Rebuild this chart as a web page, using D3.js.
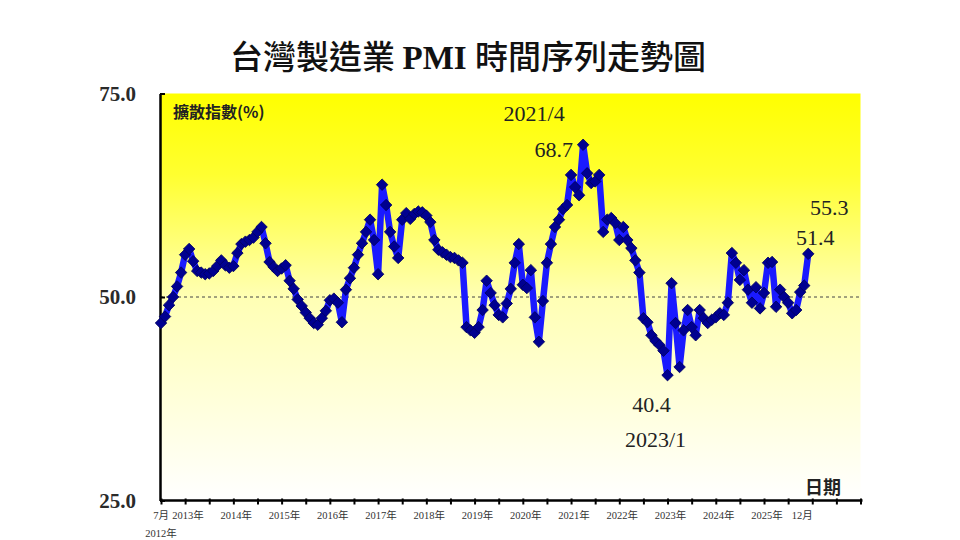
<!DOCTYPE html>
<html>
<head>
<meta charset="utf-8">
<script src="https://cdn.jsdelivr.net/npm/d3@7"></script>
<style>
  body { margin: 0; background: #fff; }
  svg { display: block; }
</style>
</head>
<body>
<script>
// monthly PMI values, July 2012 .. December 2025
var v2012 = [46.8, 47.6, 49.0, 50.0, 51.3, 53.0];
var v2013 = [55.2, 55.9, 54.4, 53.2, 53.0, 52.8, 52.9, 53.2, 53.8, 54.5, 53.9, 53.6];
var v2014 = [53.8, 55.4, 56.5, 56.8, 57.0, 57.3, 58.0, 58.6, 56.6, 54.3, 53.7, 53.2];
var v2015 = [53.5, 53.9, 52.0, 51.0, 49.7, 48.9, 48.1, 47.4, 46.8, 46.6, 47.4, 48.3];
var v2016 = [49.6, 49.8, 49.3, 46.9, 50.9, 52.3, 53.6, 55.2, 56.6, 58.0, 59.5, 57.0];
var v2017 = [52.8, 63.8, 61.3, 58.0, 56.2, 54.8, 59.5, 60.3, 59.6, 60.2, 60.5, 60.4];
var v2018 = [60.0, 59.2, 57.0, 55.8, 55.5, 55.2, 54.9, 54.8, 54.5, 54.2, 46.3, 45.9];
var v2019 = [45.6, 46.3, 48.4, 52.0, 50.5, 49.0, 47.8, 47.5, 49.2, 51.0, 54.2, 56.5];
var v2020 = [51.5, 51.1, 53.3, 47.5, 44.5, 49.5, 54.2, 56.5, 58.6, 59.5, 60.8, 61.3];
var v2021 = [65.0, 63.5, 62.5, 68.7, 65.2, 64.0, 64.2, 65.0, 58.0, 59.5, 59.7, 59.1];
var v2022 = [57.0, 58.6, 57.0, 56.0, 54.5, 53.0, 47.4, 46.9, 45.3, 44.6, 44.1, 43.4];
var v2023 = [40.4, 51.7, 46.8, 41.4, 45.9, 48.4, 46.3, 45.3, 48.4, 47.4, 46.8, 47.2];
var v2024 = [47.5, 48.0, 47.8, 49.3, 55.4, 54.2, 52.1, 53.3, 50.9, 49.3, 51.2, 48.6];
var v2025 = [50.5, 54.2, 54.3, 48.8, 50.9, 50.0, 49.3, 48.0, 48.4, 50.6, 51.4, 55.3];

var values = [].concat(v2012, v2013, v2014, v2015, v2016, v2017, v2018,
  v2019, v2020, v2021, v2022, v2023, v2024, v2025);

var yearLabels = ['2013年', '2014年', '2015年', '2016年', '2017年', '2018年', '2019年',
  '2020年', '2021年', '2022年', '2023年', '2024年', '2025年'];
var yTicks = [25, 50, 75];

var W = 960, H = 540;
var pLeft = 160, pRight = 860.5, pTop = 93.5, pBottom = 500.5;

var svg = d3.select('body').append('svg')
  .attr('width', W)
  .attr('height', H);

var x = d3.scaleLinear().domain([0, 174]).range([pLeft + 1, pRight]);
var y = d3.scaleLinear().domain([25, 75]).range([pBottom, pTop]);

// background gradient
var grad = svg.append('defs').append('linearGradient')
  .attr('id', 'bg')
  .attr('x1', 0).attr('y1', 0).attr('x2', 0).attr('y2', 1);
grad.append('stop').attr('offset', 0).attr('stop-color', '#ffff00');
grad.append('stop').attr('offset', 0.2).attr('stop-color', '#ffff30');
grad.append('stop').attr('offset', 0.5).attr('stop-color', '#ffffb4');
grad.append('stop').attr('offset', 1).attr('stop-color', '#ffffff');

svg.append('rect')
  .attr('x', pLeft).attr('y', pTop)
  .attr('width', pRight - pLeft).attr('height', pBottom - pTop)
  .attr('fill', 'url(#bg)');

// title
var title = svg.append('text')
  .attr('x', 468).attr('y', 69)
  .attr('text-anchor', 'middle')
  .style('font-size', '33px')
  .style('fill', '#111');
title.append('tspan')
  .style('font-family', '"Noto Sans CJK TC", sans-serif')
  .style('font-weight', 500)
  .text('台灣製造業 ');
title.append('tspan')
  .style('font-family', '"Liberation Serif", serif')
  .style('font-weight', 'bold')
  .text('PMI ');
title.append('tspan')
  .style('font-family', '"Noto Sans CJK TC", sans-serif')
  .style('font-weight', 500)
  .text('時間序列走勢圖');

// 50 reference line
svg.append('line')
  .attr('x1', pLeft).attr('x2', pRight)
  .attr('y1', y(50)).attr('y2', y(50))
  .attr('stroke', '#444')
  .attr('stroke-width', 1)
  .attr('stroke-dasharray', '3,3');

// axes
var yAxis = d3.axisLeft(y)
  .tickValues(yTicks)
  .tickSizeInner(-5)
  .tickSizeOuter(0)
  .tickPadding(24)
  .tickFormat(d3.format('.1f'));

var gy = svg.append('g')
  .attr('transform', 'translate(' + pLeft + ',0)')
  .call(yAxis);
gy.select('.domain').attr('stroke', '#000').attr('stroke-width', 2.5);
gy.selectAll('.tick line').attr('stroke', '#000').attr('stroke-width', 2);
gy.selectAll('.tick text')
  .style('font-family', '"Liberation Serif", serif')
  .style('font-weight', 'bold')
  .style('font-size', '21px')
  .style('fill', '#2a2a2a');

var xAxis = d3.axisBottom(x)
  .tickValues(d3.range(0, 175, 6))
  .tickSizeInner(4)
  .tickSizeOuter(0)
  .tickFormat('');

var gx = svg.append('g')
  .attr('transform', 'translate(0,' + pBottom + ')')
  .call(xAxis);
gx.select('.domain').attr('stroke', '#000').attr('stroke-width', 2.5)
  .attr('d', 'M' + pLeft + ',0H' + (pRight + 2));
gx.selectAll('.tick line').attr('stroke', '#000').attr('stroke-width', 2)
  .attr('y1', -2);

var labelFont = '"Liberation Serif", "Noto Sans CJK TC", serif';

svg.selectAll('.year-label')
  .data(yearLabels)
  .enter().append('text')
  .attr('class', 'year-label')
  .attr('x', function (d, i) { return x(6 + i * 12) + 3; })
  .attr('y', 519)
  .attr('text-anchor', 'middle')
  .style('font-family', labelFont)
  .style('font-size', '10.5px')
  .style('fill', '#333')
  .text(function (d) { return d; });

svg.append('text')
  .attr('x', x(0)).attr('y', 519)
  .attr('text-anchor', 'middle')
  .style('font-family', labelFont)
  .style('font-size', '10.5px')
  .style('fill', '#333')
  .text('7月');
svg.append('text')
  .attr('x', x(0)).attr('y', 537)
  .attr('text-anchor', 'middle')
  .style('font-family', labelFont)
  .style('font-size', '10.5px')
  .style('fill', '#333')
  .text('2012年');
svg.append('text')
  .attr('x', x(values.length - 1) - 6).attr('y', 519)
  .attr('text-anchor', 'middle')
  .style('font-family', labelFont)
  .style('font-size', '10.5px')
  .style('fill', '#333')
  .text('12月');

// axis titles
svg.append('text')
  .attr('x', 173).attr('y', 118)
  .style('font-family', '"Noto Sans CJK TC", sans-serif')
  .style('font-weight', 'bold')
  .style('font-size', '16px')
  .style('fill', '#222')
  .text('擴散指數(%)');

svg.append('text')
  .attr('x', 823).attr('y', 494)
  .attr('text-anchor', 'middle')
  .style('font-family', '"Noto Sans CJK TC", sans-serif')
  .style('font-weight', 'bold')
  .style('font-size', '18px')
  .style('fill', '#222')
  .text('日期');

// series
var line = d3.line()
  .x(function (d, i) { return x(i); })
  .y(function (d) { return y(d); });

svg.append('path')
  .datum(values)
  .attr('fill', 'none')
  .attr('stroke', '#1a1aff')
  .attr('stroke-width', 6.5)
  .attr('stroke-linejoin', 'round')
  .attr('d', line);

var marker = d3.symbol().type(d3.symbolSquare).size(66);

svg.selectAll('.pt')
  .data(values)
  .enter().append('path')
  .attr('class', 'pt')
  .attr('d', marker)
  .attr('transform', function (d, i) {
    return 'translate(' + x(i) + ',' + y(d) + ') rotate(45)';
  })
  .attr('fill', '#000090')
  .attr('stroke', '#000060')
  .attr('stroke-width', 0.8);

// annotations
var iPeak = 105, iLow = 126, iLast = values.length - 1;

function note(txt, px, py, anchor) {
  svg.append('text')
    .attr('x', px).attr('y', py)
    .attr('text-anchor', anchor)
    .style('font-family', '"Liberation Serif", serif')
    .style('font-size', '22px')
    .style('fill', '#222')
    .text(txt);
}

note('2021/4', x(iPeak) - 49, y(values[iPeak]) - 24, 'middle');
note(values[iPeak].toFixed(1), x(iPeak) - 10, y(values[iPeak]) + 12, 'end');
note(values[iLow].toFixed(1), x(iLow) - 16, y(values[iLow]) + 37, 'middle');
note('2023/1', x(iLow) - 12, y(values[iLow]) + 72, 'middle');
note(values[iLast].toFixed(1), x(iLast) + 21, y(values[iLast]) - 39, 'middle');
note(values[iLast - 1].toFixed(1), x(iLast) + 7, y(values[iLast]) - 9, 'middle');
</script>
</body>
</html>
